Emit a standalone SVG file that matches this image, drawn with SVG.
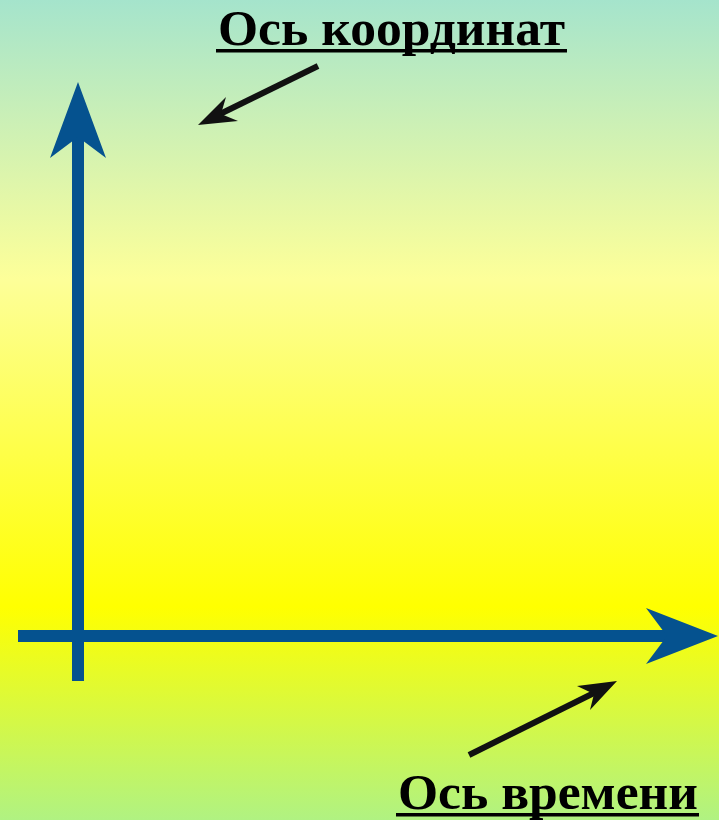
<svg xmlns="http://www.w3.org/2000/svg" width="719" height="820" viewBox="0 0 719 820">
<defs>
<linearGradient id="bg" x1="0" y1="0" x2="0" y2="1">
<stop offset="0" stop-color="#a5e4cc"/>
<stop offset="0.34" stop-color="#fdff99"/>
<stop offset="0.74" stop-color="#ffff00"/>
<stop offset="1" stop-color="#b0f282"/>
</linearGradient>
<style>
.lbl{font-family:"Liberation Serif","DejaVu Serif",serif;font-weight:bold;font-size:50px;fill:#000}
.axis{fill:#05528f}
.ptr{stroke:#111;stroke-width:6;fill:none}
.ptrh{fill:#111}
</style>
</defs>
<rect x="0" y="0" width="719" height="820" fill="url(#bg)"/>
<g id="axis-y">
<rect class="axis" x="72" y="135" width="12" height="546"/>
<polygon class="axis" points="78,82 106,158 78,137 50,158"/>
</g>
<g id="axis-x">
<rect class="axis" x="18" y="630" width="652" height="12"/>
<polygon class="axis" points="718,636 646,664 667,636 646,608"/>
</g>
<g id="label-coord">
<text class="lbl" x="218" y="45" textLength="347" lengthAdjust="spacingAndGlyphs">Ось координат</text>
<rect x="216" y="49" width="351" height="3.5" fill="#000"/>
</g>
<g id="label-time">
<text class="lbl" x="398" y="809" textLength="300" lengthAdjust="spacingAndGlyphs">Ось времени</text>
<rect x="396" y="813" width="303" height="3.5" fill="#000"/>
</g>
<g id="connectors">
<line class="ptr" x1="318" y1="66" x2="218" y2="115"/>
<polygon class="ptrh" points="198,125 226,97 221,114 238,121"/>
<line class="ptr" x1="469" y1="755" x2="598" y2="691"/>
<polygon class="ptrh" points="617,681 577,686 594,694 590,710"/>
</g>
</svg>
